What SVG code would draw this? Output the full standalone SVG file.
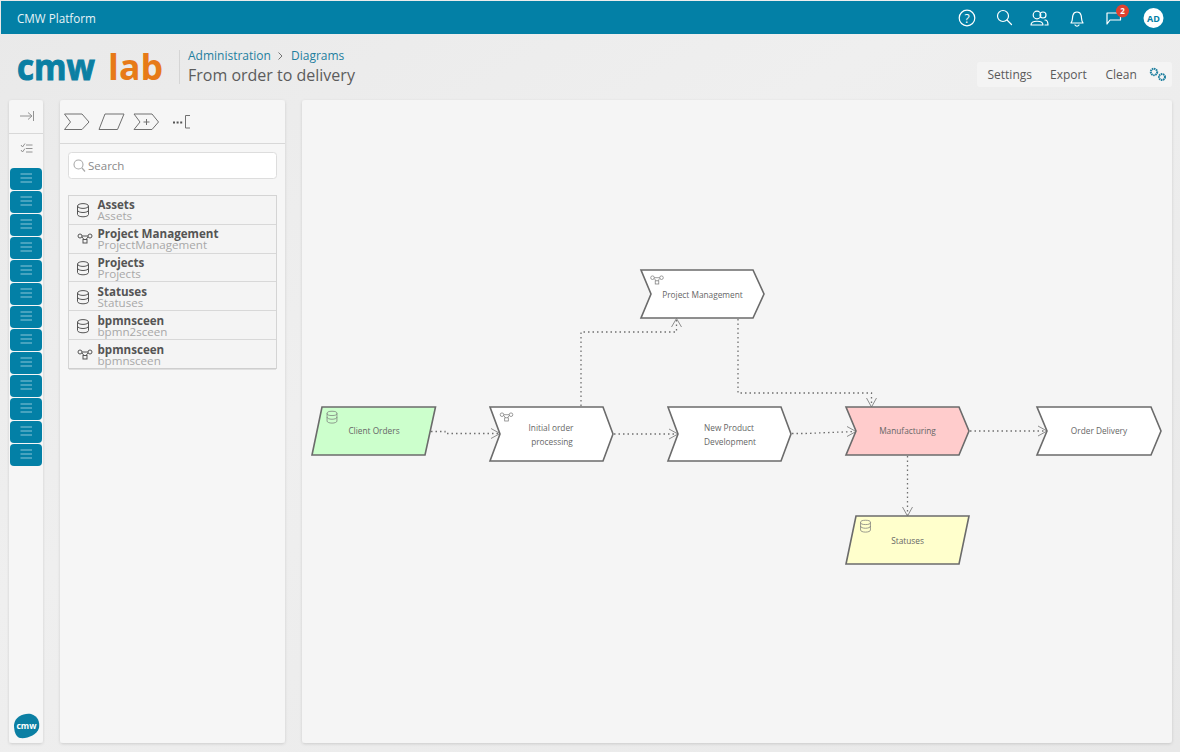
<svg xmlns="http://www.w3.org/2000/svg" width="1180" height="752" viewBox="0 0 1180 752">
<style>
text{font-family:"Open Sans","Noto Sans","Liberation Sans",sans-serif}
.node{stroke:#6b6b6b;stroke-width:1.6;stroke-linejoin:miter}
.lbl{font-size:8.300px;fill:#666;text-anchor:middle}
.conn{fill:none;stroke:#707070;stroke-width:1.300;stroke-dasharray:1.500 3}
.head{fill:none;stroke:#808080;stroke-width:.9}
.ic{fill:none;stroke:#777;stroke-width:.8}
.ico{fill:none;stroke:#fff;stroke-width:1.200;stroke-linecap:round;stroke-linejoin:round}
.tool{fill:none;stroke:#707070;stroke-width:1}
.bar{fill:#0380a6}
.burger{stroke:#8cc6d8;stroke-width:1}
.t1{font-size:11.600px;font-weight:700;fill:#555}
.t2{font-size:11.600px;fill:#a8a8a8}
.act{font-size:12px;fill:#5a5a5a}
.sep{stroke:#d8d8d8;stroke-width:1}
</style>
<defs>
<linearGradient id="bg" x1="0" y1="0" x2="1" y2="1"><stop offset="0" stop-color="#e9e9e9"/><stop offset=".4" stop-color="#efefef"/><stop offset="1" stop-color="#e8e8e8"/></linearGradient>
<filter id="sh" x="-5%" y="-5%" width="110%" height="110%"><feDropShadow dx="0" dy="1" stdDeviation="1.500" flood-color="#000" flood-opacity=".14"/></filter>
<g id="db"><ellipse cx="0" cy="-4" rx="5.500" ry="2.400"/><path d="M-5.500-4V4.500C-5.500 5.800-3 6.800 0 6.800S5.500 5.800 5.500 4.500V-4M-5.500 0.200C-5.500 1.500-3 2.500 0 2.500S5.500 1.500 5.500 0.200"/></g>
<g id="flow"><rect x="-7" y="-4" width="4" height="4" rx="2"/><rect x="3" y="-4" width="4" height="4" rx="2"/><rect x="-2" y="1.500" width="4" height="3.500"/><path d="M-3-2H3M-3 -1 -1 1.500M3-1 1 1.500"/></g>
<g id="burger"><rect class="bar" x="0" y="0" width="32" height="22" rx="4"/><path class="burger" d="M10.500 6H22M10.500 10H22M10.500 14H22"/></g>
</defs>
<rect width="1180" height="752" fill="url(#bg)"/>
<g id="topbar">
<rect x="1" y="1" width="1179" height="33" class="bar"/>
<text x="17" y="22.500" font-size="11.700" fill="#e6f3f7">CMW Platform</text>
<circle cx="967" cy="18" r="7.800" class="ico"/>
<text x="967" y="22.500" font-size="12" fill="#fff" text-anchor="middle">?</text>
<circle cx="1003" cy="16" r="5.500" class="ico"/><path class="ico" d="M1007 20 1011.500 24.500"/>
<circle cx="1037" cy="15" r="3.800" class="ico"/><circle cx="1043" cy="15" r="3" class="ico"/><path class="ico" d="M1031 25C1031 20 1043 20 1043 25ZM1045 20C1047 20 1048 22.500 1048 25H1045"/>
<path class="ico" d="M1071 23C1073 21 1072 18 1073 15C1074 11 1080 11 1081 15C1082 18 1081 21 1083 23ZM1075 25C1076 26.500 1078 26.500 1079 25"/>
<path class="ico" d="M1107 24V13H1120.500V20H1110Z"/>
<circle cx="1122.500" cy="11" r="6.500" fill="#e0412f"/><text x="1122.500" y="14" font-size="8" font-weight="700" fill="#fff" text-anchor="middle">2</text>
<circle cx="1153.500" cy="18" r="10" fill="#fff"/><text x="1153.500" y="21.500" font-size="9" font-weight="700" fill="#0380a6" text-anchor="middle">AD</text>
</g>
<g id="header">
<text x="17" y="80" font-size="36" font-weight="700" fill="#0b7fa3" stroke="#0b7fa3" stroke-width="1" textLength="78" lengthAdjust="spacingAndGlyphs">cmw</text>
<text x="108" y="80" font-size="36" font-weight="700" fill="#e77a17" textLength="55" lengthAdjust="spacingAndGlyphs">lab</text>
<path d="M179.500 50V84" stroke="#d5d5d5"/>
<text x="188" y="60" font-size="12" fill="#1f7f9f">Administration</text>
<path d="M278.500 52.500 282 56 278.500 59.500" fill="none" stroke="#666" stroke-width=".9"/>
<text x="291" y="60" font-size="12" fill="#1f7f9f">Diagrams</text>
<text x="188" y="81" font-size="16" fill="#5c5c5c">From order to delivery</text>
<rect x="977" y="62" width="195" height="25" rx="3" fill="#f4f4f4"/>
<text x="987.500" y="79" class="act">Settings</text>
<text x="1050" y="79" class="act">Export</text>
<text x="1105.500" y="79" class="act">Clean</text>
<g fill="none" stroke="#1f7f9f"><circle cx="1154" cy="72" r="3.200" stroke-dasharray="1.500 .6" stroke-width="2"/><circle cx="1162" cy="77" r="3" stroke-dasharray="1.500 .6" stroke-width="2"/></g>
</g>
<g id="leftbar">
<rect x="9" y="100" width="34" height="643" rx="3" fill="#f6f6f6" filter="url(#sh)"/>
<path class="sep" d="M9 133.500H43"/>
<path d="M20 116H31M28 112.500 32 116 28 119.500M33.500 111V121" fill="none" stroke="#888" stroke-width=".9"/>
<path d="M21 145 22.500 147 25 143.500M21 150 22.500 152 25 148.500M26 145H32.500M26 148.500H32.500M26 152H32.500" fill="none" stroke="#888" stroke-width=".9"/>
<use href="#burger" x="10" y="168"/><use href="#burger" x="10" y="191"/><use href="#burger" x="10" y="214"/><use href="#burger" x="10" y="237"/><use href="#burger" x="10" y="260"/><use href="#burger" x="10" y="283"/><use href="#burger" x="10" y="306"/><use href="#burger" x="10" y="329"/><use href="#burger" x="10" y="352"/><use href="#burger" x="10" y="375"/><use href="#burger" x="10" y="398"/><use href="#burger" x="10" y="421"/><use href="#burger" x="10" y="444"/>
<path d="M14 725C15 716 24 713 31 714C38 716 40 722 39 728C37 735 27 739 20 738C16 737 14 732 14 725Z" fill="#0b7fa3"/>
<text x="26.500" y="729" font-size="8.500" font-weight="700" fill="#fff" text-anchor="middle">cmw</text>
</g>
<g id="palette">
<rect x="60" y="100" width="225" height="643" rx="3" fill="#f6f6f6" filter="url(#sh)"/>
<path class="sep" d="M60 143.500H285"/>
<path class="tool" d="M64.500 114H82L89 122 82 129.500H64.500L70.500 122Z"/>
<path class="tool" d="M105 114H124L117.500 129.500H99Z"/>
<path class="tool" d="M134 114H152L158.500 122 152 129.500H134L140 122ZM143.500 122H149.500M146.500 119V125"/>
<path d="M173 122.500H183" stroke="#555" stroke-width="1.800" stroke-dasharray="2 1.600"/>
<path class="tool" d="M190 115.500H185.500V128H190"/>
<rect x="68.500" y="152.500" width="208" height="26" rx="3" fill="#fff" stroke="#ddd"/>
<circle cx="78.500" cy="164.500" r="4.500" fill="none" stroke="#aaa" stroke-width="1.100"/><path d="M82 168 85 171.500" stroke="#aaa" stroke-width="1.200"/>
<text x="88" y="170" font-size="11.500" fill="#8a8a8a">Search</text>
</g>
<g id="list">
<rect x="68.500" y="195.500" width="208" height="173" fill="#f4f4f4" stroke="#d4d4d4"/>
<path class="sep" d="M69 224.500H276M69 253.500H276M69 281.500H276M69 310.500H276M69 339.500H276"/>
<path d="M69 369H276" stroke="#c8c8c8"/>
<g id="li1"><use href="#db" x="83" y="210" fill="none" stroke="#555"/><text x="97.500" y="208.500" class="t1">Assets</text><text x="97.500" y="220" class="t2">Assets</text></g>
<g id="li2"><use href="#flow" x="85" y="238" fill="none" stroke="#555"/><text x="97.500" y="237.500" class="t1">Project Management</text><text x="97.500" y="249" class="t2">ProjectManagement</text></g>
<g id="li3"><use href="#db" x="83" y="268" fill="none" stroke="#555"/><text x="97.500" y="266.500" class="t1">Projects</text><text x="97.500" y="278" class="t2">Projects</text></g>
<g id="li4"><use href="#db" x="83" y="297" fill="none" stroke="#555"/><text x="97.500" y="295.500" class="t1">Statuses</text><text x="97.500" y="307" class="t2">Statuses</text></g>
<g id="li5"><use href="#db" x="83" y="326" fill="none" stroke="#555"/><text x="97.500" y="324.500" class="t1">bpmnsceen</text><text x="97.500" y="336" class="t2">bpmn2sceen</text></g>
<g id="li6"><use href="#flow" x="85" y="354" fill="none" stroke="#555"/><text x="97.500" y="353.500" class="t1">bpmnsceen</text><text x="97.500" y="365" class="t2">bpmnsceen</text></g>
</g>
<rect id="canvas" x="302" y="100" width="870" height="643" rx="3" fill="#f5f5f5" filter="url(#sh)"/>
<g id="connectors">
<path class="conn" d="M431 431.500H445V433.500H499"/><path class="head" d="M491 428.500 500 433.500 491 438.500"/>
<path class="conn" d="M614 434H677"/><path class="head" d="M669 429 678 434 669 439"/>
<path class="conn" d="M792 433.500H805L855 431.500"/><path class="head" d="M847 426.500 856 431.500 847 436.500"/>
<path class="conn" d="M970 431H1046"/><path class="head" d="M1038 426 1047 431 1038 436"/>
<path class="conn" d="M907.500 456V515"/><path class="head" d="M902.500 507 907.500 516 912.500 507"/>
<path class="conn" d="M581 406V332H676.500V319"/><path class="head" d="M671.500 327 676.500 318.500 681.500 327"/>
<path class="conn" d="M738 319V393H871.500V406"/><path class="head" d="M866.500 398 871.500 407 876.500 398"/>
</g>
<g id="n-client"><path class="node" fill="#ccffcc" d="M322 407H435.500L425 455H312Z"/><use href="#db" class="ic" transform="translate(332 417) scale(.9)"/><text class="lbl" x="374" y="434">Client Orders</text></g>
<g id="n-initial"><path class="node" fill="#fff" d="M490 407H603L613 434 603 461H490L500 434Z"/><use href="#flow" class="ic" transform="translate(506.500 416.500) scale(.9)"/><text class="lbl" x="551" y="431">Initial order</text><text class="lbl" x="552" y="444.500">processing</text></g>
<g id="n-pm"><path class="node" fill="#fff" d="M641 270H753L764 294 753 318H641L651 294Z"/><use href="#flow" class="ic" transform="translate(657 279.500) scale(.9)"/><text class="lbl" x="702.500" y="298">Project Management</text></g>
<g id="n-npd"><path class="node" fill="#fff" d="M668 407H781L791 434 781 461H668L678 434Z"/><text class="lbl" x="729" y="431">New Product</text><text class="lbl" x="730" y="444.500">Development</text></g>
<g id="n-man"><path class="node" fill="#ffcccc" d="M846 407H959L969 431 959 455H846L856 431Z"/><text class="lbl" x="907.500" y="434">Manufacturing</text></g>
<g id="n-del"><path class="node" fill="#fff" d="M1037 407H1151L1161 431 1151 455H1037L1047 431Z"/><text class="lbl" x="1099" y="434">Order Delivery</text></g>
<g id="n-sta"><path class="node" fill="#ffffcc" d="M856 516H969L959 564H846Z"/><use href="#db" class="ic" transform="translate(865.500 526) scale(.9)"/><text class="lbl" x="907.500" y="544">Statuses</text></g>
</svg>
